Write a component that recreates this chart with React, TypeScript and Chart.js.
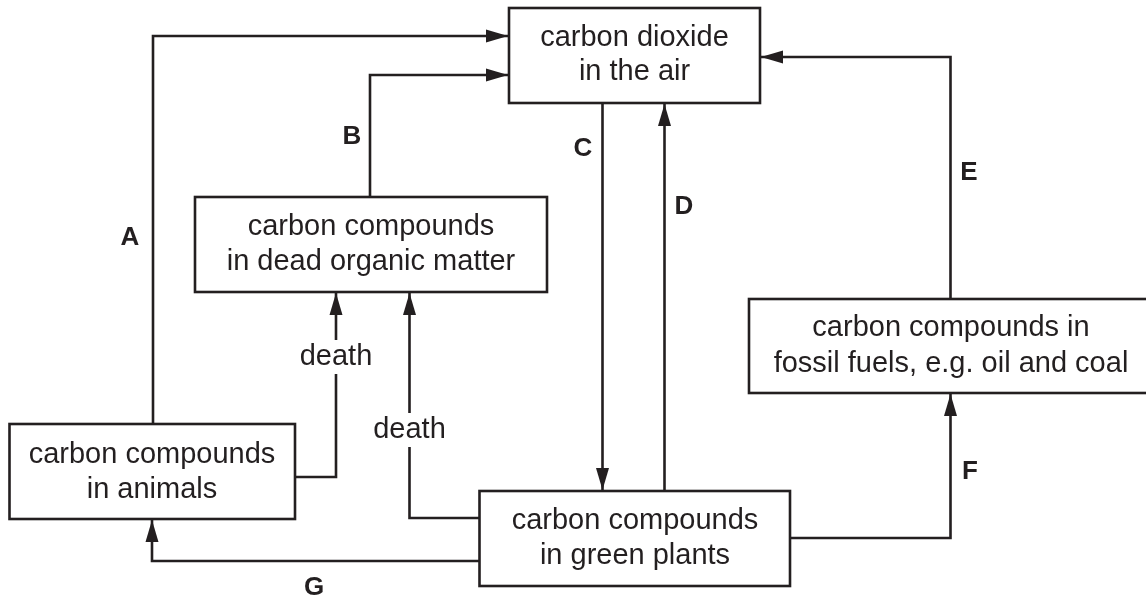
import React, { useEffect, useRef } from "react";
import { Chart, registerables } from "chart.js";

Chart.register(...registerables);

const INK = "#231f20";

// Diagram boxes (diagram units on a 1146 x 601 plane)
const boxNames = ["co2", "dead", "animals", "plants", "fossil"];
const boxX0 = [509, 195, 9.5, 479.5, 749];
const boxX1 = [760, 547, 295, 790, 1152];
const boxY0 = [8, 197, 424, 491, 299];
const boxY1 = [103, 292, 519, 586, 393];
const boxLine1 = ["carbon dioxide", "carbon compounds", "carbon compounds", "carbon compounds", "carbon compounds in"];
const boxLine2 = ["in the air", "in dead organic matter", "in animals", "in green plants", "fossil fuels, e.g. oil and coal"];
const boxTextX = [634.5, 371, 152, 635, 951];
const boxTextY1 = [38, 227, 455, 521, 328];
const boxTextY2 = [72, 262, 490, 556, 364];

// Arrow paths (last vertex = arrow tip)
const pathA = [[153, 424], [153, 36], [508, 36]];
const pathB = [[370, 197], [370, 75], [508, 75]];
const pathC = [[602.5, 103], [602.5, 490]];
const pathD = [[664.5, 491], [664.5, 104]];
const pathE = [[950.5, 299], [950.5, 57], [761, 57]];
const pathF = [[790, 538], [950.5, 538], [950.5, 394]];
const pathG = [[479.5, 561], [152, 561], [152, 520]];
const pathDeath1 = [[295, 477], [336, 477], [336, 293]];
const pathDeath2 = [[479.5, 518], [409.5, 518], [409.5, 293]];
const paths = [pathA, pathB, pathC, pathD, pathE, pathF, pathG, pathDeath1, pathDeath2];

// Letter labels
const letters = ["A", "B", "C", "D", "E", "F", "G"];
const letterX = [130, 352, 583, 684, 969, 970, 314];
const letterY = [238, 137, 149, 207, 173, 472, 588];

// "death" labels (with white background over line)
const deathX = [336, 409.5];
const deathY = [357, 430];

const diagramPlugin = {
  id: "diagram",
  afterDatasetsDraw(chart: any) {
    const { ctx, scales } = chart;
    const X = (v: number) => scales.x.getPixelForValue(v);
    const Y = (v: number) => scales.y.getPixelForValue(v);
    ctx.save();
    // arrowheads
    ctx.fillStyle = INK;
    paths.forEach((p) => {
      const n = p.length;
      const tip = p[n - 1];
      const prev = p[n - 2];
      const tx = X(tip[0]);
      const ty = Y(tip[1]);
      const px = X(prev[0]);
      const py = Y(prev[1]);
      const ang = Math.atan2(ty - py, tx - px);
      const len = 22;
      const half = 6.5;
      const bx = tx - Math.cos(ang) * len;
      const by = ty - Math.sin(ang) * len;
      const nx = -Math.sin(ang);
      const ny = Math.cos(ang);
      ctx.beginPath();
      ctx.moveTo(tx, ty);
      ctx.lineTo(bx + nx * half, by + ny * half);
      ctx.lineTo(bx - nx * half, by - ny * half);
      ctx.closePath();
      ctx.fill();
    });
    // boxes
    ctx.strokeStyle = INK;
    ctx.lineWidth = 2.6;
    boxNames.forEach((_, i) => {
      const x0 = X(boxX0[i]);
      const x1 = X(boxX1[i]);
      const y0 = Y(boxY0[i]);
      const y1 = Y(boxY1[i]);
      ctx.fillStyle = "#ffffff";
      ctx.fillRect(x0, y0, x1 - x0, y1 - y0);
      ctx.strokeRect(x0, y0, x1 - x0, y1 - y0);
    });
    // box text
    ctx.fillStyle = INK;
    ctx.textAlign = "center";
    ctx.textBaseline = "middle";
    ctx.font = '29px "Liberation Sans", Arial, sans-serif';
    boxNames.forEach((_, i) => {
      ctx.fillText(boxLine1[i], X(boxTextX[i]), Y(boxTextY1[i]));
      ctx.fillText(boxLine2[i], X(boxTextX[i]), Y(boxTextY2[i]));
    });
    // death labels
    deathX.forEach((dx, i) => {
      const cx = X(dx);
      const cy = Y(deathY[i]);
      const w = ctx.measureText("death").width;
      ctx.fillStyle = "#ffffff";
      ctx.fillRect(cx - w / 2 - 2, cy - 17, w + 4, 34);
      ctx.fillStyle = INK;
      ctx.fillText("death", cx, cy);
    });
    // letters
    ctx.font = 'bold 26px "Liberation Sans", Arial, sans-serif';
    letters.forEach((l, i) => {
      ctx.fillText(l, X(letterX[i]), Y(letterY[i]));
    });
    ctx.restore();
  },
};

export default function App() {
  const ref = useRef<HTMLCanvasElement>(null);
  useEffect(() => {
    if (!ref.current) return;
    const chart = new Chart(ref.current, {
      type: "scatter",
      data: {
        datasets: paths.map((p) => ({
          data: p.map(([x, y]) => ({ x, y })),
          showLine: true,
          borderColor: INK,
          borderWidth: 2.6,
          pointRadius: 0,
          pointHoverRadius: 0,
          fill: false,
          tension: 0,
          borderJoinStyle: "miter" as const,
        })),
      },
      options: {
        animation: false,
        responsive: false,
        maintainAspectRatio: false,
        layout: { padding: 0 },
        events: [],
        plugins: {
          legend: { display: false },
          tooltip: { enabled: false },
        },
        scales: {
          x: { type: "linear", min: 0, max: 1146, display: false },
          y: { type: "linear", min: 0, max: 601, reverse: true, display: false },
        },
      },
      plugins: [diagramPlugin],
    });
    return () => chart.destroy();
  }, []);
  return (
    <div style={{ position: "fixed", left: 0, top: 0, width: 1146, height: 601, background: "#fff" }}>
      <canvas ref={ref} width={1146} height={601} style={{ display: "block" }} />
    </div>
  );
}
